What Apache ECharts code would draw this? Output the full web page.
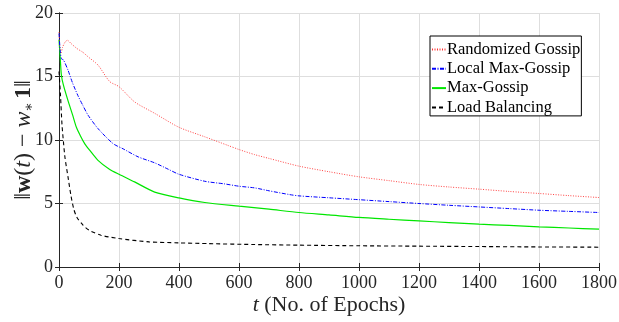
<!DOCTYPE html>
<html>
<head>
<meta charset="utf-8">
<script src="https://cdn.jsdelivr.net/npm/echarts@6/dist/echarts.min.js"></script>
<style>
  html, body { margin: 0; padding: 0; background: #fff; }
  #chart { width: 619px; height: 322px; }
</style>
</head>
<body>
<div id="chart"></div>
<script>
// Epoch values and error norms for each algorithm
const randEpochs = [0, 3, 6, 12, 20, 28, 40, 60, 80, 97, 130, 169, 200, 252, 319, 400, 486, 560, 600, 652, 700, 800, 900, 1000, 1100, 1200, 1300, 1400, 1500, 1600, 1700, 1800];
const randValues = [18.5, 17.2, 16.8, 17.3, 17.7, 17.85, 17.6, 17.2, 16.9, 16.55, 15.9, 14.6, 14.2, 13.0, 12.1, 11.0, 10.25, 9.6, 9.25, 8.85, 8.55, 7.94, 7.5, 7.1, 6.8, 6.5, 6.3, 6.13, 5.95, 5.79, 5.62, 5.47];

const localEpochs = [0, 4, 8, 15, 30, 45, 63, 80, 97, 130, 180, 214, 264, 319, 364, 400, 486, 550, 600, 652, 700, 769, 800, 900, 1000, 1100, 1200, 1300, 1400, 1500, 1600, 1700, 1800];
const localValues = [18.4, 17.0, 16.4, 16.3, 15.5, 14.5, 13.5, 12.7, 11.95, 10.9, 9.72, 9.3, 8.67, 8.2, 7.7, 7.3, 6.75, 6.55, 6.36, 6.23, 6.0, 5.7, 5.6, 5.45, 5.3, 5.15, 5.0, 4.86, 4.73, 4.6, 4.47, 4.38, 4.29];

const maxEpochs = [0, 4, 8, 15, 30, 45, 58, 72, 86, 102, 130, 168, 200, 252, 319, 400, 486, 600, 700, 800, 900, 1000, 1100, 1200, 1300, 1400, 1500, 1600, 1700, 1800];
const maxValues = [17.9, 16.5, 15.1, 14.3, 13.1, 12.0, 11.0, 10.3, 9.7, 9.2, 8.4, 7.7, 7.3, 6.7, 5.9, 5.44, 5.08, 4.79, 4.55, 4.29, 4.1, 3.9, 3.76, 3.63, 3.5, 3.37, 3.27, 3.16, 3.07, 2.98];

const loadEpochs = [0, 5, 10, 15, 20, 30, 40, 50, 60, 80, 100, 140, 200, 300, 400, 500, 650, 800, 1000, 1200, 1400, 1600, 1800];
const loadValues = [15.4, 13.5, 11.2, 9.8, 8.6, 7.1, 5.6, 4.5, 3.9, 3.3, 2.9, 2.5, 2.24, 1.98, 1.9, 1.84, 1.77, 1.72, 1.67, 1.64, 1.61, 1.58, 1.56];

const seriesNames = ['Randomized Gossip', 'Local Max-Gossip', 'Max-Gossip', 'Load Balancing'];
const xTicks = { min: 0, max: 1800, interval: 200 };
const yTicks = { min: 0, max: 20, interval: 5 };

const pairs = (xs, ys) => xs.map((x, i) => [x, ys[i]]);

const serif = '"Liberation Serif", "DejaVu Serif", serif';
const frame = '#262626';
const ink = '#262626';

const chart = echarts.init(document.getElementById('chart'), null, { renderer: 'canvas' });

function mirrorAxis(pos) {
  return {
    type: 'value', position: pos, ...(pos === 'top' ? xTicks : yTicks),
    axisLine: { show: true, lineStyle: { color: frame, width: 1 } },
    axisTick: { show: true, inside: true, length: 4, lineStyle: { color: frame } },
    axisLabel: { show: false }, splitLine: { show: false }
  };
}

chart.setOption({
  animation: false,
  backgroundColor: '#fff',
  grid: { left: 59, right: 20, top: 13, bottom: 55, containLabel: false, outerBoundsMode: 'none' },
  legend: {
    orient: 'vertical', left: 430, top: 36,
    backgroundColor: '#fff', borderColor: '#000', borderWidth: 1,
    padding: [5, 1, 0, 1],
    itemWidth: 14, itemHeight: 14, itemGap: 2.3,
    itemStyle: { opacity: 0 },
    textStyle: { fontFamily: serif, fontSize: 16.5, lineHeight: 14, color: '#000', padding: [0, 0, 0, -4] },
    data: seriesNames
  },
  xAxis: [{
    type: 'value', ...xTicks,
    name: '{i|t} (No. of Epochs)', nameLocation: 'middle', nameGap: 27, nameMoveOverlap: false,
    nameTextStyle: {
      fontFamily: serif, fontSize: 22, color: ink,
      rich: { i: { fontFamily: serif, fontStyle: 'italic', fontSize: 22, color: ink } }
    },
    axisLine: { show: true, onZero: false, lineStyle: { color: frame, width: 1 } },
    axisTick: { show: true, inside: true, length: 4, lineStyle: { color: frame } },
    axisLabel: { fontFamily: serif, fontSize: 18, color: ink, margin: 7, formatter: v => String(v) },
    splitLine: { show: true, lineStyle: { color: '#dedede', width: 1 } }
  }, mirrorAxis('top')],
  yAxis: [{
    type: 'value', ...yTicks,
    name: '{n|‖}{b|w}{n|(}{i|t}{n|) − }{i|w}{s|∗}{b|1}{n|‖}',
    nameLocation: 'middle', nameGap: 23, nameRotate: 90, nameMoveOverlap: false,
    nameTextStyle: {
      fontFamily: serif, fontSize: 24, color: ink,
      rich: {
        n: { fontFamily: serif, fontSize: 24, color: ink },
        b: { fontFamily: serif, fontSize: 24, fontWeight: 'bold', color: ink },
        i: { fontFamily: serif, fontSize: 24, fontStyle: 'italic', color: ink },
        s: { fontFamily: serif, fontSize: 14, color: ink, padding: [10, 3, 0, 0] }
      }
    },
    axisLine: { show: true, onZero: false, lineStyle: { color: frame, width: 1 } },
    axisTick: { show: true, inside: true, length: 4, lineStyle: { color: frame } },
    axisLabel: { fontFamily: serif, fontSize: 18, color: ink, margin: 6 },
    splitLine: { show: true, lineStyle: { color: '#dedede', width: 1 } }
  }, mirrorAxis('right')],
  series: [
    {
      name: seriesNames[0], type: 'line', data: pairs(randEpochs, randValues),
      showSymbol: false, symbol: 'none', smooth: 0.25, z: 4,
      itemStyle: { color: '#ff3030' },
      lineStyle: { color: '#ff3030', width: 0.9, type: [1, 1.5] }
    },
    {
      name: seriesNames[1], type: 'line', data: pairs(localEpochs, localValues),
      showSymbol: false, symbol: 'none', smooth: 0.25, z: 4,
      itemStyle: { color: '#0000ff' },
      lineStyle: { color: '#0000ff', width: 1, type: [4, 1.5, 1, 1.5] }
    },
    {
      name: seriesNames[2], type: 'line', data: pairs(maxEpochs, maxValues),
      showSymbol: false, symbol: 'none', smooth: 0.25, z: 3,
      itemStyle: { color: '#00e600' },
      lineStyle: { color: '#00e600', width: 1.2, type: 'solid' }
    },
    {
      name: seriesNames[3], type: 'line', data: pairs(loadEpochs, loadValues),
      showSymbol: false, symbol: 'none', smooth: 0.25, z: 5,
      itemStyle: { color: '#000' },
      lineStyle: { color: '#000', width: 1.1, type: [4, 3] }
    }
  ]
});
</script>
</body>
</html>
